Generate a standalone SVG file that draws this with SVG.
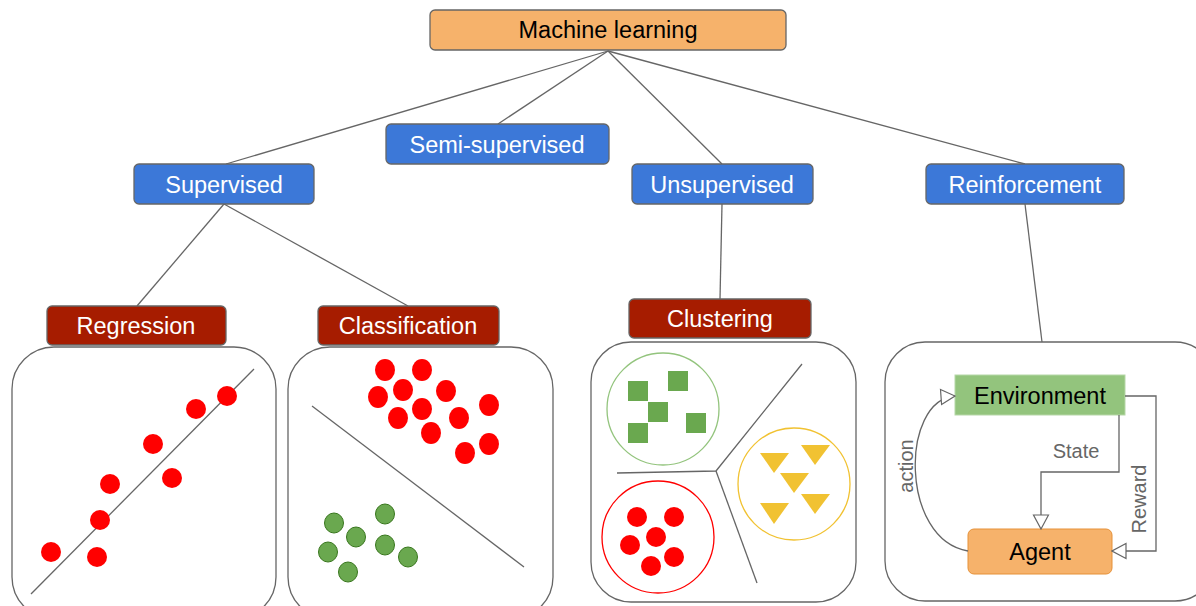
<svg xmlns="http://www.w3.org/2000/svg" width="1196" height="606" viewBox="0 0 1196 606">
<style>
.box{stroke:#666;stroke-width:1.3}
.root{fill:#f6b26b}
.blue{fill:#3c78d8}
.red{fill:#a61c00}
.lbl{font-family:"Liberation Sans",Arial,sans-serif;font-size:23.5px;text-anchor:middle}
.w{fill:#fff}
.k{fill:#000}
.panel{fill:#fff;stroke:#666;stroke-width:1.3}
.conn{stroke:#666;stroke-width:1.3;fill:none}
.rd{fill:#f00}
.gd{fill:#6aa84f;stroke:#38761d;stroke-width:1}
.gs{fill:#6aa84f}
.tri{fill:#f1c232}
.small{font-family:"Liberation Sans",Arial,sans-serif;font-size:20px;fill:#666;text-anchor:middle}
</style>
<defs>
<marker id="hollow" viewBox="0 0 16 18" refX="15" refY="9" markerWidth="16" markerHeight="18" markerUnits="userSpaceOnUse" orient="auto">
<path d="M1,1.5 L15,9 L1,16.5 Z" fill="#fff" stroke="#666" stroke-width="1.2"/>
</marker>
</defs>
<rect width="1196" height="606" fill="#fff"/>

<g id="connectors">
<line class="conn" x1="608" y1="51" x2="226" y2="164"/>
<line class="conn" x1="608" y1="51" x2="498" y2="124"/>
<line class="conn" x1="608" y1="51" x2="722" y2="164"/>
<line class="conn" x1="608" y1="51" x2="1025" y2="164"/>
<line class="conn" x1="224" y1="204" x2="137" y2="306"/>
<line class="conn" x1="224" y1="204" x2="408" y2="306"/>
<line class="conn" x1="722" y1="204" x2="720" y2="299"/>
<line class="conn" x1="1025" y1="204" x2="1042" y2="342"/>
</g>

<g id="machine-learning">
<rect class="box root" x="430" y="10" width="356" height="40" rx="5"/>
<text class="lbl k" x="608" y="38">Machine learning</text>
</g>
<g id="semi-supervised">
<rect class="box blue" x="386" y="124" width="223" height="40" rx="5"/>
<text class="lbl w" x="497" y="153">Semi-supervised</text>
</g>
<g id="supervised">
<rect class="box blue" x="134" y="164" width="180" height="40" rx="5"/>
<text class="lbl w" x="224" y="193">Supervised</text>
</g>
<g id="unsupervised">
<rect class="box blue" x="632" y="164" width="181" height="40" rx="5"/>
<text class="lbl w" x="722" y="193">Unsupervised</text>
</g>
<g id="reinforcement">
<rect class="box blue" x="926" y="164" width="198" height="40" rx="5"/>
<text class="lbl w" x="1025" y="193">Reinforcement</text>
</g>
<g id="regression">
<rect class="box red" x="47" y="306" width="179" height="39" rx="5"/>
<text class="lbl w" x="136" y="334">Regression</text>
</g>
<g id="classification">
<rect class="box red" x="318" y="306" width="181" height="39" rx="5"/>
<text class="lbl w" x="408" y="334">Classification</text>
</g>
<g id="clustering">
<rect class="box red" x="629" y="299" width="182" height="39" rx="5"/>
<text class="lbl w" x="720" y="327">Clustering</text>
</g>

<g id="regression-panel">
<rect class="panel" x="12" y="347" width="264" height="272" rx="42"/>
<line class="conn" x1="31" y1="594" x2="254" y2="369"/>
<circle class="rd" cx="51" cy="552" r="10"/>
<circle class="rd" cx="97" cy="557" r="10"/>
<circle class="rd" cx="100" cy="520" r="10"/>
<circle class="rd" cx="110" cy="484" r="10"/>
<circle class="rd" cx="153" cy="444" r="10"/>
<circle class="rd" cx="172" cy="478" r="10"/>
<circle class="rd" cx="196" cy="409" r="10"/>
<circle class="rd" cx="227" cy="396" r="10"/>
</g>

<g id="classification-panel">
<rect class="panel" x="288" y="347" width="265" height="272" rx="42"/>
<line class="conn" x1="312" y1="406" x2="524" y2="567"/>
<ellipse class="rd" cx="385" cy="370" rx="10" ry="11"/>
<ellipse class="rd" cx="422" cy="370" rx="10" ry="11"/>
<ellipse class="rd" cx="378" cy="397" rx="10" ry="11"/>
<ellipse class="rd" cx="403" cy="390" rx="10" ry="11"/>
<ellipse class="rd" cx="446" cy="391" rx="10" ry="11"/>
<ellipse class="rd" cx="489" cy="405" rx="10" ry="11"/>
<ellipse class="rd" cx="398" cy="418" rx="10" ry="11"/>
<ellipse class="rd" cx="422" cy="409" rx="10" ry="11"/>
<ellipse class="rd" cx="459" cy="418" rx="10" ry="11"/>
<ellipse class="rd" cx="431" cy="433" rx="10" ry="11"/>
<ellipse class="rd" cx="465" cy="453" rx="10" ry="11"/>
<ellipse class="rd" cx="489" cy="444" rx="10" ry="11"/>
<ellipse class="gd" cx="334" cy="523" rx="9.5" ry="10"/>
<ellipse class="gd" cx="385" cy="514" rx="9.5" ry="10"/>
<ellipse class="gd" cx="356" cy="537" rx="9.5" ry="10"/>
<ellipse class="gd" cx="328" cy="552" rx="9.5" ry="10"/>
<ellipse class="gd" cx="385" cy="545" rx="9.5" ry="10"/>
<ellipse class="gd" cx="408" cy="557" rx="9.5" ry="10"/>
<ellipse class="gd" cx="348" cy="572" rx="9.5" ry="10"/>
</g>

<g id="clustering-panel">
<rect class="panel" x="591" y="342" width="265" height="260" rx="40"/>
<circle cx="663" cy="409" r="56" fill="none" stroke="#93c47d" stroke-width="1.3"/>
<rect class="gs" x="628" y="381" width="20" height="20"/>
<rect class="gs" x="668" y="371" width="20" height="20"/>
<rect class="gs" x="648" y="402" width="20" height="20"/>
<rect class="gs" x="628" y="423" width="20" height="20"/>
<rect class="gs" x="686" y="413" width="20" height="20"/>
<circle cx="658" cy="537" r="56" fill="none" stroke="#f00" stroke-width="1.3"/>
<circle class="rd" cx="637" cy="517" r="10"/>
<circle class="rd" cx="674" cy="517" r="10"/>
<circle class="rd" cx="656" cy="537" r="10"/>
<circle class="rd" cx="630" cy="545" r="10"/>
<circle class="rd" cx="674" cy="557" r="10"/>
<circle class="rd" cx="651" cy="566" r="10"/>
<circle cx="794" cy="484" r="56" fill="none" stroke="#f1c232" stroke-width="1.3"/>
<polygon class="tri" points="760,453 789,453 774,473"/>
<polygon class="tri" points="801,445 830,445 815,465"/>
<polygon class="tri" points="780,473 809,473 794,493"/>
<polygon class="tri" points="801,494 830,494 815,514"/>
<polygon class="tri" points="760,503 789,503 774,524"/>
<polyline class="conn" points="617,473 716,471 802,364"/>
<line class="conn" x1="716" y1="471" x2="757" y2="583"/>
</g>

<g id="reinforcement-panel">
<rect class="panel" x="885" y="342" width="330" height="259" rx="40"/>
</g>
<g id="environment">
<rect x="955" y="375" width="170" height="40" fill="#93c47d" stroke="#b6d7a8" stroke-width="1"/>
<text class="lbl k" x="1040" y="404">Environment</text>
</g>
<g id="agent">
<rect x="968" y="529" width="144" height="45" rx="6" fill="#f6b26b" stroke="#e69138" stroke-width="1"/>
<text class="lbl k" x="1040" y="560">Agent</text>
</g>
<g id="rl-connectors">
<polyline class="conn" points="1119,415 1119,472 1041,472 1041,529" marker-end="url(#hollow)"/>
<polyline class="conn" points="1125,396 1156,396 1156,551 1112,551" marker-end="url(#hollow)"/>
<path class="conn" d="M968,551 C900,540 900,400 955,396" marker-end="url(#hollow)"/>
<text class="small" x="1076" y="458">State</text>
<text class="small" transform="translate(1146,499) rotate(-90)">Reward</text>
<text class="small" transform="translate(913,466) rotate(-90)">action</text>
</g>
</svg>
